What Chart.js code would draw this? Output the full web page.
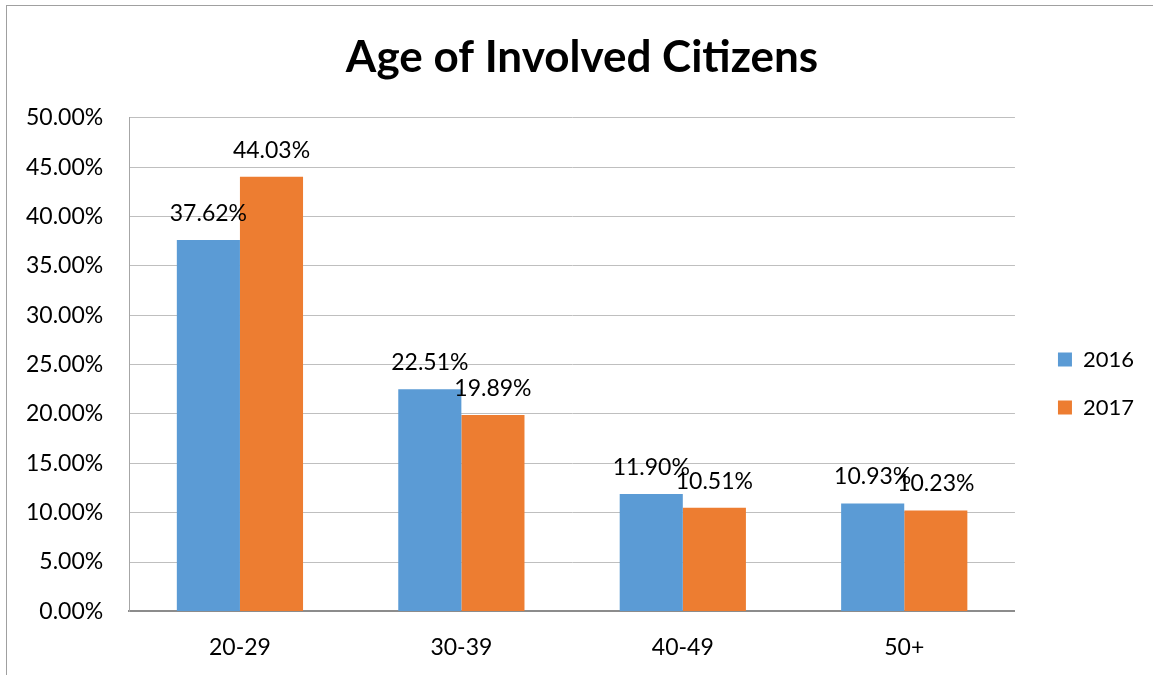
<!DOCTYPE html>
<html>
<head>
<meta charset="utf-8">
<script src="https://cdn.jsdelivr.net/npm/chart.js@4"></script>
<style>
  html, body { margin: 0; padding: 0; background: #fff; }
  #frame { position: absolute; left: 6px; top: 5px; right: 0; bottom: 0;
           border-left: 1px solid #a0a0a0; border-top: 1px solid #a0a0a0; }
  #wrap { position: absolute; left: 0; top: 0; width: 1153px; height: 675px; }
</style>
</head>
<body>
<div id="frame"></div>
<div id="wrap"><canvas id="myChart"></canvas></div>
<script>
const ageGroups = ['20-29', '30-39', '40-49', '50+'];
const share2016 = [37.62, 22.51, 11.90, 10.93];
const share2017 = [44.03, 19.89, 10.51, 10.23];
const yTicks = [0, 5, 10, 15, 20, 25, 30, 35, 40, 45, 50];

const FONT = 'Lato, "Liberation Sans", sans-serif';

// value labels above every bar
const barLabels = {
  id: 'barLabels',
  afterDatasetsDraw(chart) {
    const c = chart.ctx;
    c.save();
    c.font = '23px ' + FONT;
    c.fillStyle = '#000';
    c.textAlign = 'center';
    c.textBaseline = 'alphabetic';
    chart.data.datasets.forEach((ds, i) => {
      chart.getDatasetMeta(i).data.forEach((bar, j) => {
        c.fillText(ds.data[j].toFixed(2) + '%', bar.x, bar.y - 19);
      });
    });
    c.restore();
  }
};

const ctx1 = document.getElementById('myChart');

new Chart(ctx1, {
  type: 'bar',
  data: {
    labels: ageGroups,
    datasets: [{
      label: '2016',
      data: share2016,
      backgroundColor: '#5B9BD5',
      borderWidth: 0
    }, {
      label: '2017',
      data: share2017,
      backgroundColor: '#ED7D31',
      borderWidth: 0
    }]
  },
  options: {
    responsive: true,
    maintainAspectRatio: false,
    animation: false,
    datasets: {
      bar: { barPercentage: 1, categoryPercentage: 0.57 }
    },
    layout: { padding: { left: 20, right: 9, top: 22, bottom: 0 } },
    plugins: {
      title: {
        display: true,
        text: 'Age of Involved Citizens',
        color: '#000',
        font: { family: FONT, size: 44, weight: 'bold' },
        padding: { top: 9, bottom: 34 }
      },
      legend: {
        position: 'right',
        title: { display: true, text: ' ', font: { size: 10 }, padding: { top: 0, bottom: 58 } },
        labels: {
          color: '#000',
          font: { family: FONT, size: 22 },
          boxWidth: 14,
          boxHeight: 14,
          padding: 26
        }
      },
      tooltip: { enabled: false }
    },
    scales: {
      x: {
        grid: { display: false },
        border: { color: '#8c8c8c', width: 2 },
        ticks: { color: '#000', font: { family: FONT, size: 23 }, padding: 14 }
      },
      y: {
        min: 0,
        max: 50,
        afterBuildTicks: axis => { axis.ticks = yTicks.map(v => ({ value: v })); },
        afterFit: axis => { axis.width -= 20; },
        grid: { color: '#bfbfbf', drawTicks: false },
        border: { color: '#a6a6a6' },
        ticks: {
          color: '#000',
          font: { family: FONT, size: 23 },
          padding: 26,
          callback: v => v.toFixed(2) + '%'
        }
      },
      // empty spacer between plot and legend
      gap: {
        position: 'right',
        display: true,
        grid: { display: false },
        border: { display: false },
        ticks: { display: false },
        afterFit: axis => { axis.width = 17; }
      }
    }
  },
  plugins: [barLabels]
});
</script>
</body>
</html>
